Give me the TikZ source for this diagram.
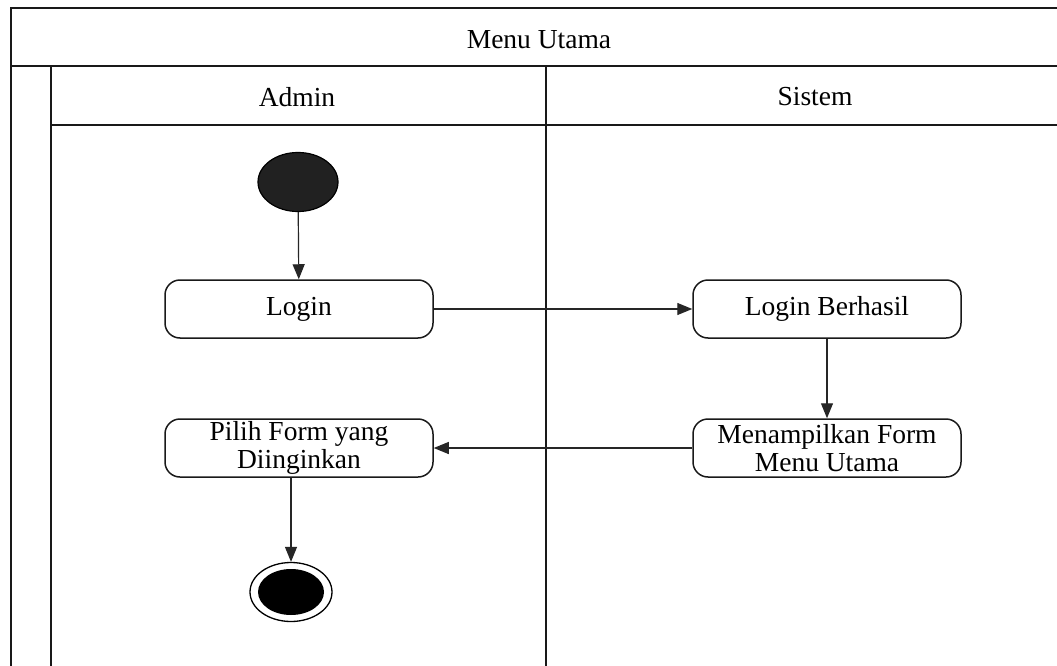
\documentclass[tikz,border=0pt]{standalone}
\usepackage{fontspec}
\setmainfont{Liberation Serif}
\usetikzlibrary{arrows.meta,shapes.geometric}
\begin{document}
\begin{tikzpicture}[x=1pt,y=-1pt,
  lane/.style={line width=1.6pt,draw=black!90},
  lbl/.style={font=\fontsize{27.5}{28}\selectfont,text=black},
  act/.style={draw=black!90,line width=1.5pt,rounded corners=15pt,fill=white,
    minimum width=268pt,minimum height=58pt,inner sep=0pt,align=center,
    font=\fontsize{27.5}{27.5}\selectfont},
  flow/.style={draw=black!85,line width=1.2pt,-{Triangle[length=15pt,width=12pt]}}]
\useasboundingbox (0,0) rectangle (1057,666);
\fill[white] (0,0) rectangle (1057,666);
% pool frame and swimlanes
\draw[lane] (1057,8) -- (11,8) -- (11,666);
\draw[lane] (11,66) -- (1057,66);
\draw[lane] (51,66) -- (51,666);
\draw[lane] (51,125) -- (1057,125);
\draw[lane] (546,66) -- (546,666);
\node[lbl] (pool) at (539,40) {Menu Utama};
\node[lbl] (laneA) at (297,97) {Admin};
\node[lbl] (laneS) at (815,97) {Sistem};
% start and end states
\node[ellipse,draw=black,line width=1.2pt,fill=black!87,minimum width=80pt,minimum height=59pt,inner sep=0pt] (start) at (298,182) {};
\node[ellipse,draw=black,line width=1.3pt,fill=white,minimum width=82pt,minimum height=59pt,inner sep=0pt] (end) at (291,592) {};
\node[ellipse,fill=black,minimum width=66pt,minimum height=46pt,inner sep=0pt] (endcore) at (291,592) {};
% activities
\node[act] (login) at (299,309) {Login};
\node[act] (ok) at (827,309) {Login Berhasil};
\node[act] (show) at (827,448) {Menampilkan Form\\Menu Utama};
\node[act] (pick) at (299,448) {Pilih Form yang\\Diinginkan};
% transitions
\draw[flow] (start) -- (login);
\draw[flow] (login) -- (ok);
\draw[flow] (ok) -- (show);
\draw[flow] (show) -- (pick);
\draw[flow] (pick.south -| end.north) -- (end.north);
\end{tikzpicture}
\end{document}
